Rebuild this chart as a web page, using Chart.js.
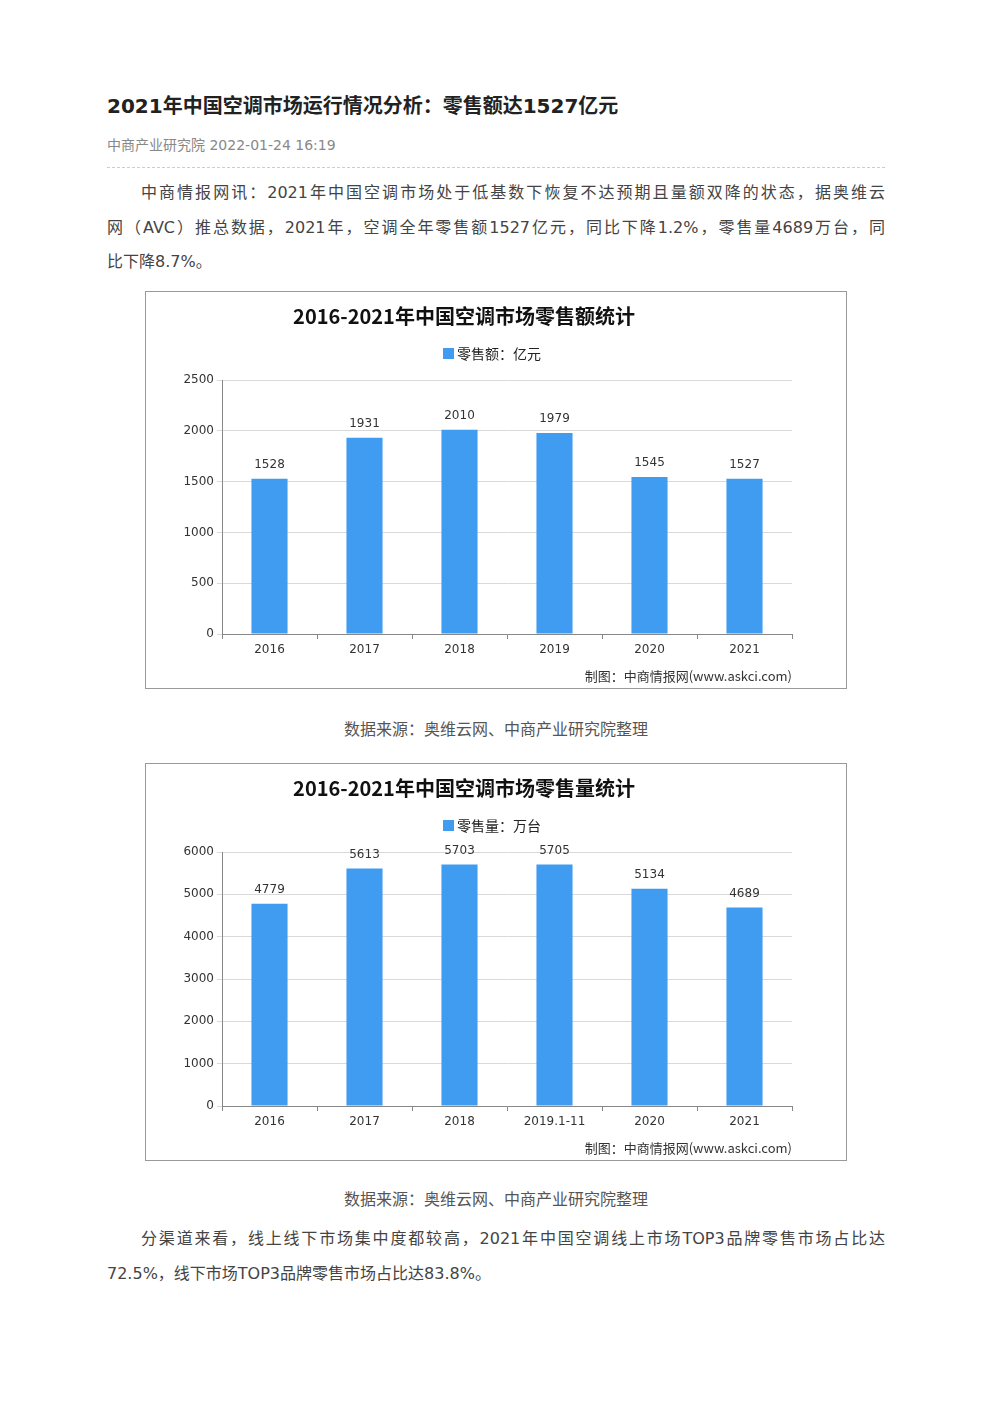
<!DOCTYPE html>
<html><head><meta charset="utf-8">
<script src="https://cdn.jsdelivr.net/npm/chart.js@4/dist/chart.umd.min.js"></script>
<style>
body{margin:0;background:#fff;font-family:"DejaVu Sans","Noto Sans CJK SC",sans-serif;color:#333;}
.page{position:relative;width:992px;height:1403px;}
h1{position:absolute;left:107px;top:90px;margin:0;font-size:20px;font-weight:bold;color:#222;font-family:"DejaVu Sans","Noto Sans CJK SC",sans-serif;}
.meta{position:absolute;left:107px;top:134px;font-size:14px;color:#888;}
.hr{position:absolute;left:107px;top:167px;width:778px;border-top:1px dashed #ccc;}
.p{position:absolute;left:107px;width:778px;font-size:16px;line-height:32.5px;color:#444;font-family:"Noto Sans CJK SC",sans-serif;}
.p div{white-space:nowrap;}
.p .j{text-align:justify;text-align-last:justify;}
.p span{font-family:"DejaVu Sans";}
.box{position:absolute;left:145px;width:700px;height:396px;border:1px solid #999;}
.src{position:absolute;left:0;width:992px;text-align:center;font-size:16px;color:#555;font-family:"Noto Sans CJK SC",sans-serif;}
</style></head><body><div class="page">
<h1>2021年中国空调市场运行情况分析：零售额达1527亿元</h1>
<div class="meta">中商产业研究院 2022-01-24 16:19</div>
<div class="hr"></div>
<div class="p" style="top:175px">
<div class="j" style="padding-left:34px;white-space:normal">中商情报网讯：<span>2021</span>年中国空调市场处于低基数下恢复不达预期且量额双降的状态，据奥维云</div>
<div class="j" style="white-space:normal">网（<span>AVC</span>）推总数据，<span>2021</span>年，空调全年零售额<span>1527</span>亿元，同比下降<span>1.2%</span>，零售量<span>4689</span>万台，同</div>
<div>比下降<span>8.7%</span>。</div>
</div>
<div class="box" style="top:291px"><canvas id="c1" width="700" height="396"></canvas></div>
<div class="src" style="top:716px">数据来源：奥维云网、中商产业研究院整理</div>
<div class="box" style="top:763px"><canvas id="c2" width="700" height="396"></canvas></div>
<div class="src" style="top:1186px">数据来源：奥维云网、中商产业研究院整理</div>
<div class="p" style="top:1221px">
<div class="j" style="padding-left:34px;white-space:normal">分渠道来看，线上线下市场集中度都较高，<span>2021</span>年中国空调线上市场<span>TOP3</span>品牌零售市场占比达</div>
<div><span>72.5%</span>，线下市场<span>TOP3</span>品牌零售市场占比达<span>83.8%</span>。</div>
</div>
</div>
<script>
const years1 = ["2016","2017","2018","2019","2020","2021"];
const sales = [1528,1931,2010,1979,1545,1527];
const years2 = ["2016","2017","2018","2019.1-11","2020","2021"];
const volume = [4779,5613,5703,5705,5134,4689];

function make(id, labels, data, max, step, title, legend){
  const deco = {id:'deco', afterDraw(ch){
    const c = ch.ctx; c.save();
    c.fillStyle='#111'; c.font='bold 20px "Noto Sans CJK SC",sans-serif'; c.textAlign='center'; c.textBaseline='middle';
    c.fillText(title, 318, 24);
    c.fillStyle='#3f9cf0'; c.fillRect(297, 56, 11, 11);
    c.fillStyle='#222'; c.font='14px "Noto Sans CJK SC"'; c.textAlign='left';
    c.fillText(legend, 311, 62);
    c.font='12px "DejaVu Sans"'; c.textAlign='center'; c.textBaseline='bottom'; c.fillStyle='#333';
    const meta = ch.getDatasetMeta(0);
    meta.data.forEach((b,i)=>c.fillText(String(data[i]), b.x, b.y-8));
    c.textAlign='right'; c.textBaseline='middle'; c.font='13px "Noto Sans CJK SC"';
    c.fillText('制图：中商情报网(www.askci.com)', 646, 384);
    c.restore();
  }};
  new Chart(document.getElementById(id), {
    type:'bar',
    data:{labels, datasets:[{data, backgroundColor:'#3f9cf0', barPercentage:0.38, categoryPercentage:1}]},
    options:{responsive:false, animation:false,
      layout:{padding:{left:0,right:54,top:88,bottom:0}},
      plugins:{legend:{display:false}, title:{display:false}, tooltip:{enabled:false}},
      scales:{
        x:{afterFit:s=>{s.height=54;}, grid:{display:true,drawOnChartArea:false,offset:true,color:'#888',tickLength:5}, border:{color:'#888'},
           ticks:{color:'#333',font:{size:12,family:'DejaVu Sans'},padding:4}},
        y:{min:0,max, afterFit:s=>{s.width=76;}, ticks:{stepSize:step,color:'#333',font:{size:12,family:'DejaVu Sans'},callback:v=>String(v)},
           grid:{color:'#d9d9d9',tickLength:5}, border:{color:'#888'}}
      }},
    plugins:[deco]
  });
}
make('c1', years1, sales, 2500, 500, '2016-2021年中国空调市场零售额统计', '零售额：亿元');
make('c2', years2, volume, 6000, 1000, '2016-2021年中国空调市场零售量统计', '零售量：万台');
</script></body></html>
